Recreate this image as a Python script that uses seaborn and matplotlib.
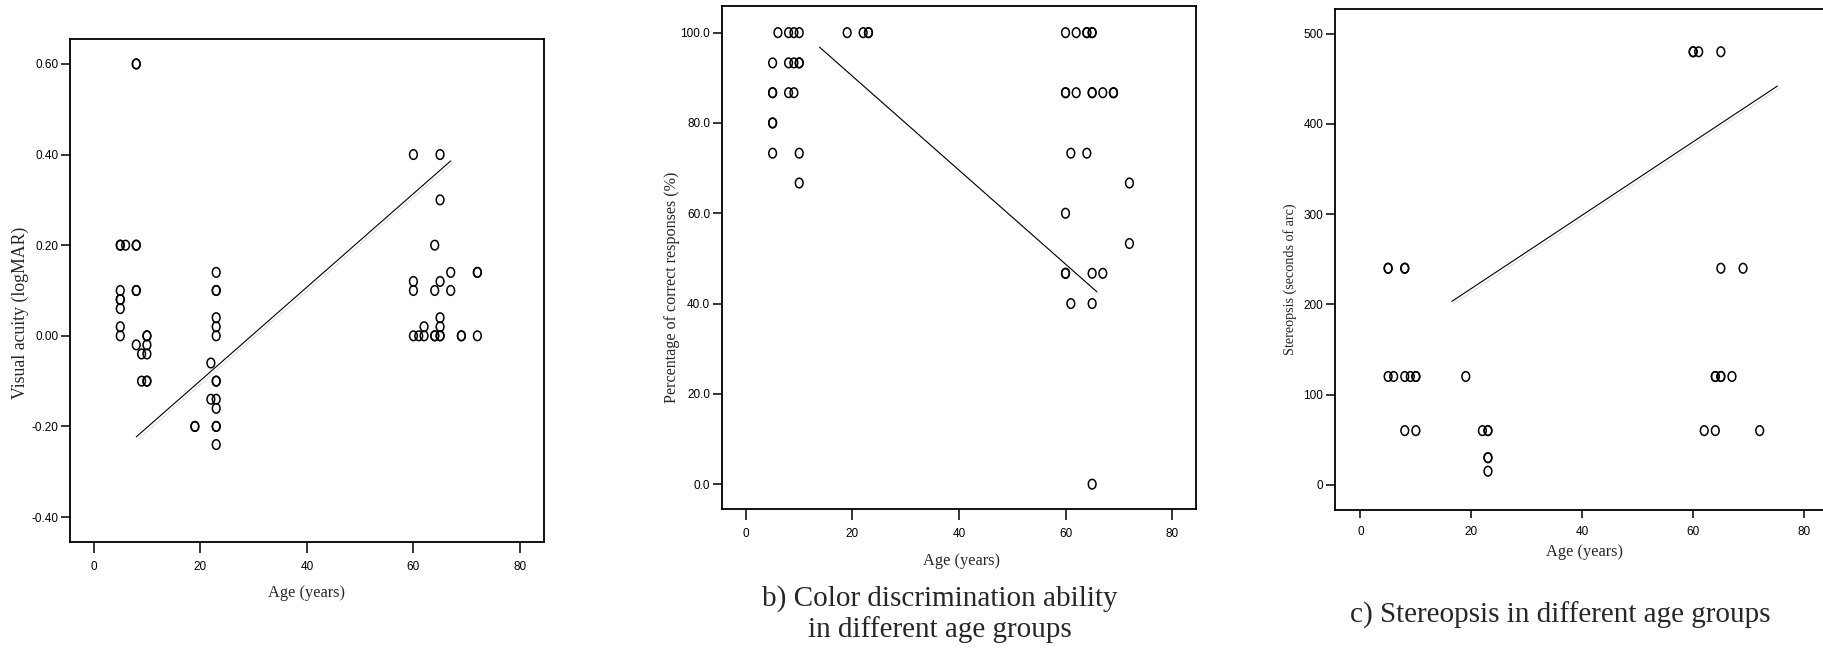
import numpy as np
import pandas as pd
import matplotlib
matplotlib.use("Agg")
import matplotlib.pyplot as plt
import matplotlib.patheffects as pe
from matplotlib.markers import MarkerStyle
from matplotlib.transforms import Affine2D
import seaborn as sns

# a) visual acuity (logMAR) vs age
va_age = [5, 5, 6, 5, 5, 5, 5, 5, 5,
          8, 8, 8, 8, 8, 8, 8,
          9, 9,
          10, 10, 10, 10, 10, 10,
          19, 19,
          22, 22,
          23, 23, 23, 23, 23, 23, 23, 23, 23, 23, 23, 23, 23,
          60, 60, 60, 60,
          61,
          62, 62,
          64, 64, 64, 64,
          65, 65, 65, 65, 65, 65, 65,
          67, 67,
          69, 69,
          72, 72, 72]
va_logmar = [0.20, 0.20, 0.20, 0.10, 0.08, 0.08, 0.06, 0.02, 0.00,
             0.60, 0.60, 0.20, 0.20, 0.10, 0.10, -0.02,
             -0.04, -0.10,
             0.00, 0.00, -0.02, -0.04, -0.10, -0.10,
             -0.20, -0.20,
             -0.06, -0.14,
             0.14, 0.10, 0.10, 0.04, 0.02, 0.00, -0.10, -0.10, -0.14, -0.16, -0.20, -0.20, -0.24,
             0.40, 0.12, 0.10, 0.00,
             0.00,
             0.02, 0.00,
             0.20, 0.10, 0.00, 0.00,
             0.40, 0.30, 0.12, 0.04, 0.02, 0.00, 0.00,
             0.14, 0.10,
             0.00, 0.00,
             0.14, 0.14, 0.00]
va_fit_age = [8.0, 67.0]
va_fit_val = [-0.223, 0.386]

# b) colour discrimination (% correct) vs age
cd_age = [6, 8, 9, 10, 19, 22, 23, 23, 60, 62, 64, 64, 65, 65,
          5, 8, 9, 10, 10,
          5, 5, 8, 9, 60, 60, 62, 65, 65, 67, 69, 69,
          5, 5,
          5, 10, 61, 64,
          10, 72,
          60,
          72,
          60, 60, 65, 67,
          61, 65,
          65]
cd_pct = [100.0] * 14 + [93.3] * 5 + [86.7] * 12 + [80.0] * 2 + [73.3] * 4 + \
         [66.7] * 2 + [60.0] + [53.3] + [46.7] * 4 + [40.0] * 2 + [0.0]
cd_fit_age = [13.8, 65.9]
cd_fit_val = [96.8, 42.6]

# c) stereopsis (seconds of arc) vs age
st_age = [60, 60, 61, 65,
          5, 5, 8, 8, 65, 69,
          5, 6, 8, 9, 10, 10, 19, 64, 64, 65, 65, 67,
          8, 10, 22, 23, 23, 62, 64, 72,
          23, 23,
          23]
st_arc = [480] * 4 + [240] * 6 + [120] * 12 + [60] * 8 + [30] * 2 + [15]
st_fit_age = [16.5, 75.2]
st_fit_val = [203.3, 442.0]

sns.set_theme(style="ticks")
plt.rcParams['font.family'] = ['Liberation Sans', 'DejaVu Sans']
plt.rcParams['axes.unicode_minus'] = False

W, H = 1824, 649
fig = plt.figure(figsize=(W / 100, H / 100), dpi=100)

serif = ['Liberation Serif', 'DejaVu Serif']
oval = MarkerStyle('o', transform=Affine2D().scale(0.8, 1.0))


def box(l, r, t, b):
    return [l / W, 1 - b / H, (r - l) / W, (b - t) / H]


panels = [
    dict(rect=box(70, 544, 39, 542), x=va_age, y=va_logmar, fx=va_fit_age, fy=va_fit_val,
         xlim=(-4.43, 84.5), ylim=(-0.455, 0.655), yticks=np.arange(-0.4, 0.61, 0.2), fmt='{:.2f}',
         ylabel='Visual acuity (logMAR)', ylab_pos=(-0.104, 0.455), xlab_pos=(0.5, -0.101),
         ylab_size=12.8, xtl=8),
    dict(rect=box(722, 1196, 6, 509), x=cd_age, y=cd_pct, fx=cd_fit_age, fy=cd_fit_val,
         xlim=(-4.5, 84.5), ylim=(-5.5, 105.9), yticks=np.arange(0, 101, 20), fmt='{:.1f}',
         ylabel='Percentage of correct responses (%)', ylab_pos=(-0.105, 0.441), xlab_pos=(0.506, -0.103),
         ylab_size=11.6, xtl=8),
    dict(rect=box(1335, 1829, 9, 510), x=st_age, y=st_arc, fx=st_fit_age, fy=st_fit_val,
         xlim=(-4.58, 84.5), ylim=(-28, 527.4), yticks=np.arange(0, 501, 100), fmt='{:.0f}',
         ylabel='Stereopsis (seconds of arc)', ylab_pos=(-0.091, 0.461), xlab_pos=(0.506, -0.084),
         ylab_size=10.2, xtl=6),
]

for p in panels:
    ax = fig.add_axes(p['rect'])
    df = pd.DataFrame({'age': p['x'], 'val': p['y']})
    sns.scatterplot(data=df, x='age', y='val', ax=ax, marker=oval, s=48,
                    color='none', edgecolor='black', linewidth=1.1, zorder=3)
    ax.collections[-1].set_facecolor('none')
    fit = pd.DataFrame({'age': p['fx'], 'val': p['fy']})
    sns.lineplot(data=fit, x='age', y='val', ax=ax, color='black', lw=0.8,
                 path_effects=[pe.SimpleLineShadow(offset=(1.5, -1.5), shadow_color='0.75', alpha=0.5),
                               pe.Normal()])
    ax.set_xlim(*p['xlim'])
    ax.set_ylim(*p['ylim'])
    ax.set_xticks([0, 20, 40, 60, 80])
    ax.set_yticks(p['yticks'])
    ax.set_yticklabels([p['fmt'].format(v) for v in p['yticks']])
    for s in ax.spines.values():
        s.set_visible(True)
        s.set_color('black')
        s.set_linewidth(1.3)
    ax.tick_params(axis='x', direction='out', length=p['xtl'], width=1.1, pad=5.5,
                   labelsize=8.5, colors='black')
    ax.tick_params(axis='y', direction='out', length=6.5, width=1.1, pad=2,
                   labelsize=8.5, colors='black')
    ax.set_xlabel('Age (years)', fontsize=11.8, family=serif)
    ax.xaxis.set_label_coords(*p['xlab_pos'])
    ax.xaxis.label.set_va('center')
    ax.set_ylabel(p['ylabel'], fontsize=p['ylab_size'], family=serif)
    ax.yaxis.set_label_coords(*p['ylab_pos'])
    ax.yaxis.label.set_va('center')
    ax.grid(False)

fig.text(940 / W, 1 - 614 / H, 'b) Color discrimination ability\nin different age groups',
         ha='center', va='center', fontsize=21, family=serif, linespacing=1.2)
fig.text(1560 / W, 1 - 615 / H, 'c) Stereopsis in different age groups',
         ha='center', va='center', fontsize=21, family=serif)

fig.savefig('out.png', dpi=100)
